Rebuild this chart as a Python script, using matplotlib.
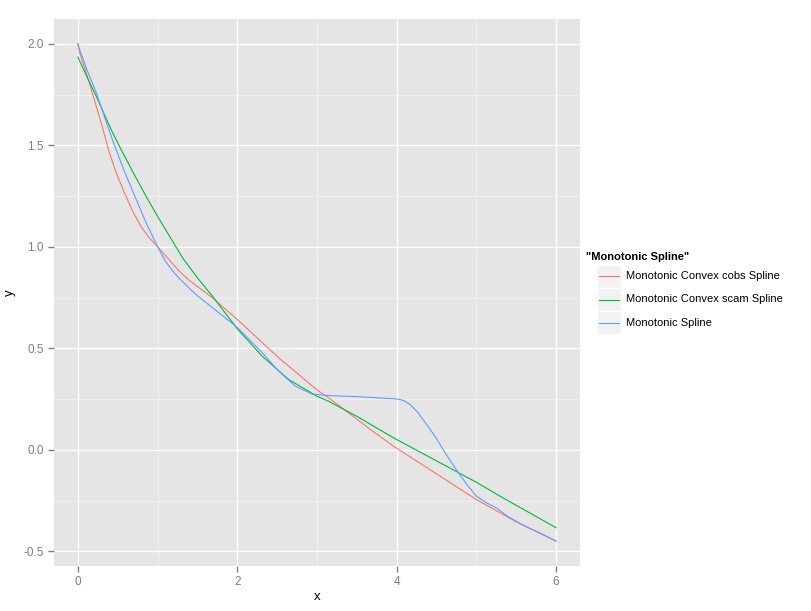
import numpy as np
import matplotlib.pyplot as plt
from matplotlib.patches import Rectangle
from matplotlib.lines import Line2D

# values
cobs_x = [0.0, 0.021, 0.105, 0.23, 0.30, 0.39, 0.48, 0.584, 0.688, 0.792, 0.896, 1.0, 1.105, 1.271, 1.396,
          1.688, 2.0, 2.521, 3.0, 3.146, 3.67, 3.96, 5.0, 5.5, 6.0]
cobs_y = [2.0, 1.956, 1.857, 1.693, 1.60, 1.47, 1.365, 1.266, 1.175, 1.10, 1.044, 1.0, 0.954, 0.88, 0.835,
          0.749, 0.642, 0.453, 0.295, 0.256, 0.1, 0.018, -0.245, -0.355, -0.45]

scam_x = [0.0, 0.105, 0.23, 0.417, 0.52, 0.688, 0.875, 1.0, 1.313, 1.5, 1.688, 2.0, 2.313, 2.646, 3.0, 3.146,
          3.5, 3.96, 5.0, 5.33, 6.0]
scam_y = [1.935, 1.845, 1.742, 1.578, 1.496, 1.37, 1.235, 1.15, 0.946, 0.847, 0.757, 0.596, 0.461, 0.346, 0.264,
          0.239, 0.165, 0.059, -0.16, -0.236, -0.384]

mono_x = [0.0, 0.021, 0.113, 0.23, 0.33, 0.44, 0.58, 0.73, 0.854, 1.0, 1.105, 1.19, 1.271, 1.48, 1.688, 2.0,
          2.313, 2.521, 2.73, 2.938, 3.146, 3.5, 3.95, 4.04, 4.1, 4.17, 4.27, 4.375, 4.48, 4.584, 4.69, 4.79,
          4.896, 5.0, 5.125, 5.25, 5.4, 5.61, 5.8, 6.0]
mono_y = [2.0, 1.972, 1.873, 1.76, 1.645, 1.52, 1.375, 1.235, 1.12, 1.0, 0.925, 0.88, 0.845, 0.765, 0.70, 0.603,
          0.478, 0.387, 0.313, 0.275, 0.267, 0.262, 0.252, 0.248, 0.24, 0.223, 0.182, 0.125, 0.067, 0.0, -0.064,
          -0.122, -0.179, -0.228, -0.261, -0.286, -0.33, -0.376, -0.41, -0.45]

labels = ["Monotonic Convex cobs Spline", "Monotonic Convex scam Spline", "Monotonic Spline"]
colors = ["#F8766D", "#00BA38", "#619CFF"]

plt.rcParams['font.family'] = ['Liberation Sans', 'DejaVu Sans']

fig = plt.figure(figsize=(8.11, 6.11), dpi=100)
ax = fig.add_axes([54/811, 1-566/611, (580-54)/811, (566-19)/611])
ax.set_facecolor("#E5E5E5")
for s in ax.spines.values():
    s.set_visible(False)

ax.set_xlim(-0.3, 6.3)
ax.set_ylim(-0.5725, 2.1225)
ax.set_xticks([0, 2, 4, 6])
ax.set_yticks([-0.5, 0.0, 0.5, 1.0, 1.5, 2.0])
ax.set_xticks([1, 3, 5], minor=True)
ax.set_yticks([-0.25, 0.25, 0.75, 1.25, 1.75], minor=True)
ax.grid(which="major", color="white", lw=1.0)
ax.grid(which="minor", color="#F2F2F2", lw=0.6)
ax.set_axisbelow(True)
ax.tick_params(which="major", color="#7F7F7F", length=4, width=1, labelcolor="#7F7F7F", labelsize=8.5)
ax.tick_params(which="minor", length=0)
ax.set_yticklabels(["-0.5", "0.0", "0.5", "1.0", "1.5", "2.0"])

ax.plot(cobs_x, cobs_y, color=colors[0], lw=0.8)
ax.plot(scam_x, scam_y, color=colors[1], lw=0.8)
ax.plot(mono_x, mono_y, color=colors[2], lw=0.8)

ax.set_xlabel("x", fontsize=9.5, labelpad=2)
ax.set_ylabel("y", fontsize=9.5, labelpad=5)

# legend, ggplot style
W, H = 811, 611
fig.text(586/W, 1-257/H, '"Monotonic Spline"', fontsize=8, fontweight="bold", va="center", ha="left")
for i, (lab, col) in enumerate(zip(labels, colors)):
    top = 265 + i*23
    fig.add_artist(Rectangle((597/W, 1-(top+23)/H), 24/W, 23/H, transform=fig.transFigure,
                             facecolor="#F2F2F2", edgecolor="white", lw=1))
    yc = 1-(top+11.5)/H
    fig.add_artist(Line2D([599/W, 619/W], [yc, yc], transform=fig.transFigure, color=col, lw=0.8))
    fig.text(626/W, yc, lab, fontsize=8, va="center", ha="left")

fig.savefig("out.png", dpi=100)
